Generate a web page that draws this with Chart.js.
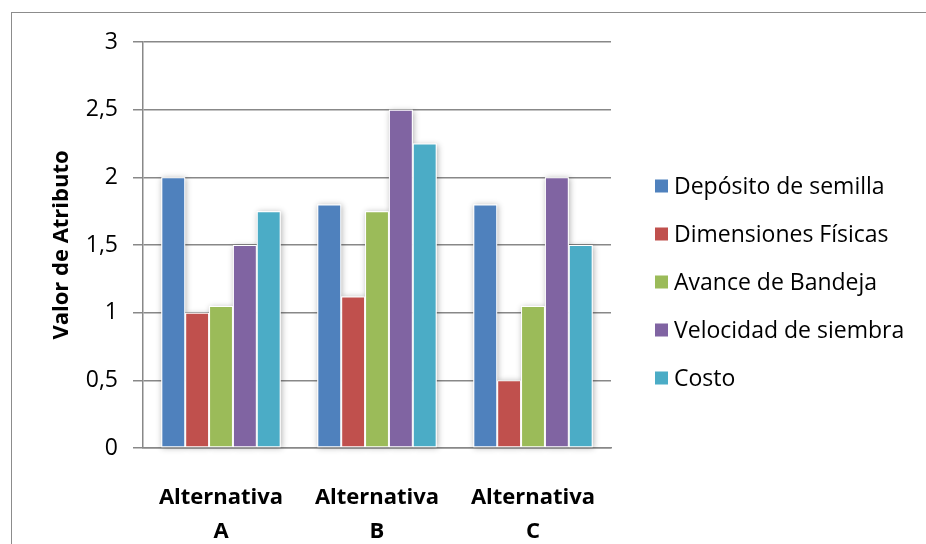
<!DOCTYPE html>
<html>
<head>
<meta charset="utf-8">
<script src="https://cdn.jsdelivr.net/npm/chart.js@4"></script>
<style>
  html, body { margin: 0; padding: 0; background: #ffffff; }
  #wrap { position: relative; width: 926px; height: 544px; overflow: hidden; }
  #frame { position: absolute; left: 11px; top: 12px; width: 1200px; height: 1200px;
           border-left: 1px solid #8c8c8c; border-top: 1px solid #8c8c8c; }
  #chart { position: absolute; left: 0; top: 0; }
</style>
</head>
<body>
<div id="wrap">
  <div id="frame"></div>
  <canvas id="chart" width="926" height="544"></canvas>
</div>
<script>
// Categories (two-line labels) and series
const categories = [['Alternativa', 'A'], ['Alternativa', 'B'], ['Alternativa', 'C']];
const seriesNames = ['Depósito de semilla', 'Dimensiones Físicas', 'Avance de Bandeja', 'Velocidad de siembra', 'Costo'];
const deposito    = [2.0, 1.8, 1.8];
const dimensiones = [1.0, 1.12, 0.5];
const avance      = [1.05, 1.75, 1.05];
const velocidad   = [1.5, 2.5, 2.0];
const costo       = [1.75, 2.25, 1.5];
const yTickLabels = ['0', '0,5', '1', '1,5', '2', '2,5', '3'];
const yAxisTitle  = 'Valor de Atributo';

const seriesValues = [deposito, dimensiones, avance, velocidad, costo];
const seriesColors = ['#4F81BD', '#C0504D', '#9BBB59', '#8064A2', '#4BACC6'];

const FONT = "'Open Sans', sans-serif";
const GRID = '#888888';

// soft drop shadow behind every bar, taken from the element geometry
const barShadow = {
  id: 'barShadow',
  beforeDatasetsDraw(chart) {
    const ctx = chart.ctx;
    ctx.save();
    ctx.shadowColor = 'rgba(0,0,0,0.30)';
    ctx.shadowBlur = 6;
    ctx.shadowOffsetX = 1;
    ctx.shadowOffsetY = 1;
    ctx.fillStyle = '#ffffff';
    chart.data.datasets.forEach((ds, i) => {
      chart.getDatasetMeta(i).data.forEach(el => {
        const p = el.getProps(['x', 'y', 'base', 'width'], true);
        ctx.fillRect(p.x - p.width / 2, p.y, p.width, p.base - p.y);
      });
    });
    ctx.restore();
  }
};

// legend list on the right of the plot
const sideLegend = {
  id: 'sideLegend',
  afterDraw(chart) {
    const ctx = chart.ctx;
    const area = chart.chartArea;
    const left = area.right + 44;
    const rowGap = 48;
    const box = 13;
    const size = 23;
    const n = chart.data.datasets.length;
    const midY = 282;
    const firstY = midY - rowGap * (n - 1) / 2;
    ctx.save();
    ctx.font = size + 'px ' + FONT;
    ctx.textBaseline = 'alphabetic';
    ctx.textAlign = 'left';
    chart.data.datasets.forEach((ds, i) => {
      const cy = firstY + i * rowGap;
      ctx.fillStyle = ds.backgroundColor;
      ctx.fillRect(left, cy - box / 2, box, box);
      ctx.fillStyle = '#000000';
      ctx.fillText(ds.label, left + box + 6, cy + size * 0.357);
    });
    ctx.restore();
  }
};

new Chart(document.getElementById('chart'), {
  type: 'bar',
  data: {
    labels: categories,
    datasets: seriesNames.map((name, i) => ({
      label: name,
      data: seriesValues[i],
      backgroundColor: seriesColors[i],
      borderColor: '#ffffff',
      borderWidth: 1,
      borderSkipped: false,
      categoryPercentage: 0.765,
      barPercentage: 1.0
    }))
  },
  options: {
    responsive: false,
    animation: false,
    layout: { padding: { left: 0, top: 42, right: 315, bottom: 0 } },
    plugins: {
      legend: { display: false },
      tooltip: { enabled: false }
    },
    scales: {
      x: {
        grid: { display: false, drawTicks: false },
        border: { display: true, color: GRID, width: 1.5 },
        ticks: {
          color: '#000000',
          font: { family: FONT, size: 22, weight: 'bold', lineHeight: 1.545 },
          padding: 33,
          maxRotation: 0,
          autoSkip: false
        },
        afterFit(scale) { scale.height = 96; }
      },
      y: {
        min: 0,
        max: 3,
        ticks: {
          stepSize: 0.5,
          color: '#000000',
          font: { family: FONT, size: 23 },
          padding: 15,
          callback: (v, i) => yTickLabels[i]
        },
        grid: { color: GRID, lineWidth: 1.5, tickLength: 10, drawTicks: true },
        border: { display: true, color: GRID, width: 1.5 },
        title: {
          display: true,
          text: yAxisTitle,
          color: '#000000',
          font: { family: FONT, size: 22, weight: 'bold' },
          padding: { top: 49, bottom: 0 }
        },
        afterFit(scale) { scale.width = 143; }
      }
    }
  },
  plugins: [barShadow, sideLegend]
});
</script>
</body>
</html>
